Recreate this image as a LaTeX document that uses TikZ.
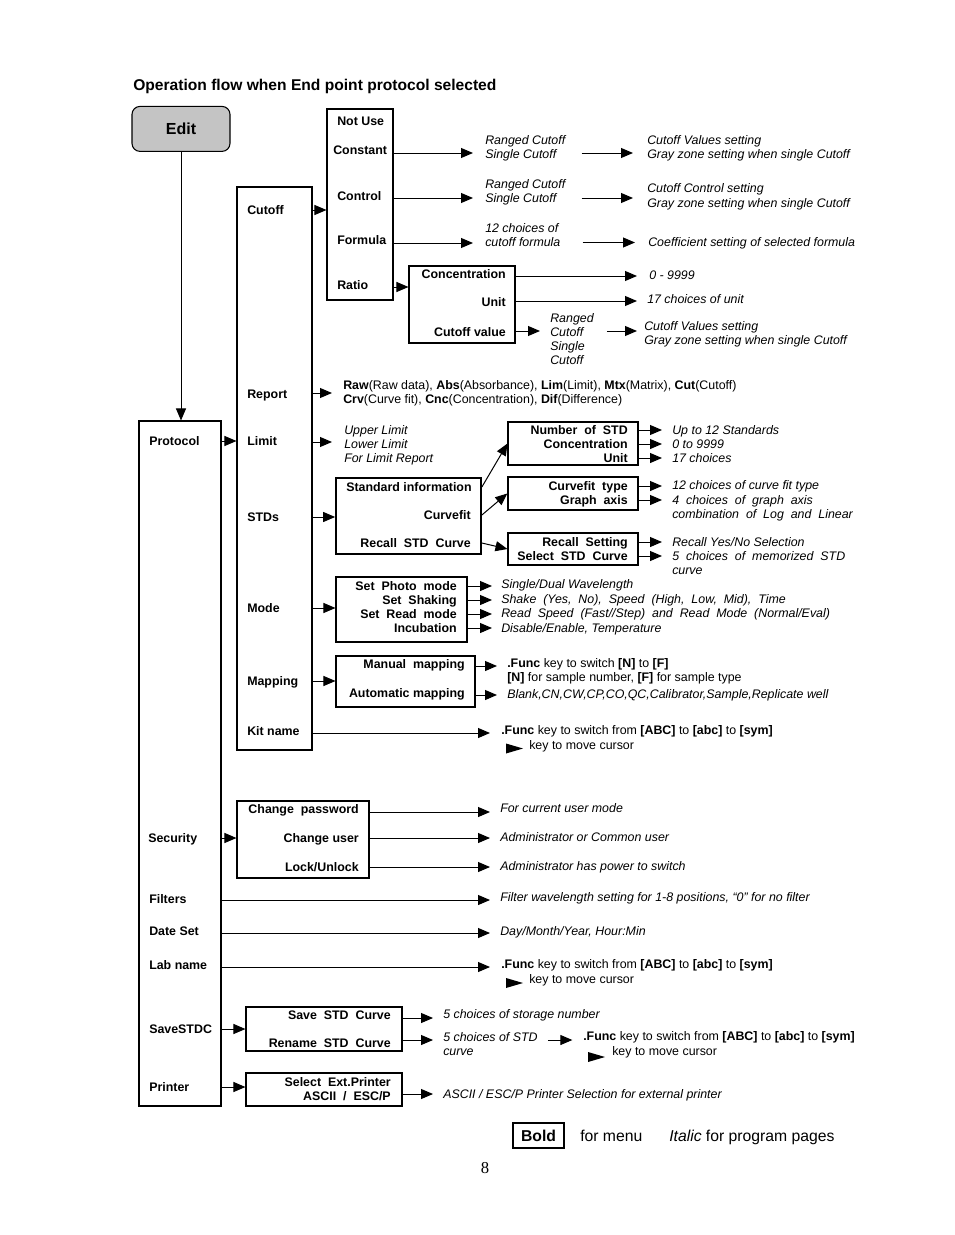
\documentclass[tikz,border=0pt]{standalone}
\usepackage{fontspec}
\setmainfont{Liberation Sans}
\newfontfamily\pagenumfont{Liberation Serif}
\usetikzlibrary{arrows.meta,fit}
\definecolor{editgray}{RGB}{196,196,196}
\tikzset{
  lbl/.style={font=\fontsize{9.3}{10.5}\selectfont\bfseries, inner sep=0pt, anchor=base west},
  lblr/.style={lbl, anchor=base east},
  itx/.style={font=\fontsize{9.3}{10.5}\selectfont\itshape, inner sep=0pt, anchor=base west, align=left},
  itm/.style={itx, anchor=north west},
  rgx/.style={font=\fontsize{9.3}{10.5}\selectfont, inner sep=0pt, anchor=base west, align=left},
  rgm/.style={rgx, anchor=north west},
  box/.style={draw, line width=0.8pt, inner sep=0pt},
  arr/.style={-{Triangle[length=9pt,width=7.5pt]}, line width=0.75pt},
}
% \ar{from anchor}{to anchor}{y}{gap at end}
\newcommand{\ar}[4]{\draw[arr, shorten >=#4] (#1 |- 0,#3) -- (#2 |- 0,#3);}
\begin{document}
\begin{tikzpicture}[x=0.75pt,y=-0.75pt]
\useasboundingbox (0,0) rectangle (954,1235);

% title
\node[font=\fontsize{11.7}{14}\selectfont\bfseries, inner sep=0pt, anchor=base west] (title) at (133,90.5) {Operation flow when End point protocol selected};

% Edit
\node[draw, line width=0.8pt, fill=editgray, rounded corners=6pt, minimum width=73.5pt, minimum height=33.75pt, inner sep=0pt,
      font=\fontsize{12}{14}\selectfont\bfseries, text depth=0pt, yshift=1.2pt] (edit) at (181,130.5) {Edit};

% main boxes
\node[box, fit={(139,421)(221,1106)}] (prot) {};
\node[box, fit={(237,187)(312,750)}] (col) {};
\node[box, fit={(327,109)(393,300)}] (cutbox) {};
\node[box, fit={(409,266)(515,343)}] (ratiobox) {};
\node[box, line width=1.3pt, fit={(336,478)(481,554)}] (stdbox) {};
\node[box, fit={(508,422)(638,465)}] (numbox) {};
\node[box, line width=1.1pt, fit={(508,477)(638,510)}] (cfbox) {};
\node[box, fit={(508,533)(638,565)}] (rcbox) {};
\node[box, fit={(336,577)(467,642)}] (modebox) {};
\node[box, fit={(336,656)(475,707)}] (mapbox) {};
\node[box, fit={(237,801)(369,878)}] (secbox) {};
\node[box, fit={(246,1007)(402,1051)}] (savebox) {};
\node[box, fit={(246,1073)(402,1106)}] (prnbox) {};

% Protocol labels
\node[lbl] (lprot) at (149,445.5) {Protocol};
\node[lbl] (lsec) at (148,842.5) {Security};
\node[lbl] (lfilt) at (149,903.5) {Filters};
\node[lbl] (ldate) at (149,935.5) {Date Set};
\node[lbl] (llab) at (149,969.5) {Lab name};
\node[lbl] (lsave) at (149,1033.5) {SaveSTDC};
\node[lbl] (lprn) at (149,1091.5) {Printer};

% column labels
\node[lbl] (lcut) at (247,214.5) {Cutoff};
\node[lbl] (lrep) at (247,398.5) {Report};
\node[lbl] (llim) at (247,445.5) {Limit};
\node[lbl] (lstd) at (247,521.5) {STDs};
\node[lbl] (lmode) at (247,612.5) {Mode};
\node[lbl] (lmap) at (247,685.5) {Mapping};
\node[lbl] (lkit) at (247,735.5) {Kit name};

% cutoff options
\node[lbl] (lnot) at (337,125.5) {Not Use};
\node[lbl] (lconst) at (333,154.5) {Constant};
\node[lbl] (lctrl) at (337,200.5) {Control};
\node[lbl] (lform) at (337,244.5) {Formula};
\node[lbl] (lratio) at (337,289) {Ratio};

% ratio box labels
\node[lblr] (lconc) at (506,278.5) {Concentration};
\node[lblr] (lunit) at (506,306.5) {Unit};
\node[lblr] (lcv) at (506,336) {Cutoff value};

% std box labels
\node[lbl] (lsi) at (346,491.5) {Standard information};
\node[lblr] (lcf) at (471,519.5) {Curvefit};
\node[lblr] (lrsc) at (471,547.5) {Recall~ STD~ Curve};

\node[lblr] (lnum) at (628,434.5) {Number~ of~ STD};
\node[lblr] (lnconc) at (628,448.5) {Concentration};
\node[lblr] (lnunit) at (628,462.5) {Unit};
\node[lblr] (lcft) at (628,490.5) {Curvefit~ type};
\node[lblr] (lga) at (628,504.5) {Graph~ axis};
\node[lblr] (lrs) at (628,546.5) {Recall~ Setting};
\node[lblr] (lssc) at (628,560.5) {Select~ STD~ Curve};

% mode labels
\node[lblr] (lm1) at (457,590.5) {Set~ Photo~ mode};
\node[lblr] (lm2) at (457,604.5) {Set~ Shaking};
\node[lblr] (lm3) at (457,618.5) {Set~ Read~ mode};
\node[lblr] (lm4) at (457,632.5) {Incubation};

% mapping labels
\node[lblr] (lmm) at (465,668.5) {Manual~ mapping};
\node[lblr] (lam) at (465,697.5) {Automatic mapping};

% security labels
\node[lblr] (lcp) at (359,813.5) {Change~ password};
\node[lblr] (lcu) at (359,842.5) {Change user};
\node[lblr] (llu) at (359,871.5) {Lock/Unlock};

% save / printer labels
\node[lblr] (lssave) at (391,1019.5) {Save~ STD~ Curve};
\node[lblr] (lsren) at (391,1047.5) {Rename~ STD~ Curve};
\node[lblr] (lpsel) at (391,1086.5) {Select~ Ext.Printer};
\node[lblr] (lpasc) at (391,1100.5) {ASCII~ /~ ESC/P};

% ---------- texts ----------
\node[itm] (t1) at (485,135.5) {Ranged Cutoff\\Single Cutoff};
\node[itm] (t1b) at (647,135.5) {Cutoff Values setting\\Gray zone setting when single Cutoff};
\node[itm] (t2) at (485,179.5) {Ranged Cutoff\\Single Cutoff};
\node[itm, font=\fontsize{9.3}{11.2}\selectfont\itshape] (t2b) at (647,183.5) {Cutoff Control setting\\Gray zone setting when single Cutoff};
\node[itm] (t3) at (485,223.5) {12 choices of\\cutoff formula};
\node[itx] (t3b) at (648,246.5) {Coefficient setting of selected formula};
\node[itx] (t4) at (649,279.5) {0 - 9999};
\node[itx] (t5) at (647,303.5) {17 choices of unit};
\node[itm] (t6) at (550,313.5) {Ranged\\Cutoff\\Single\\Cutoff};
\node[itm] (t6b) at (644,321.5) {Cutoff Values setting\\Gray zone setting when single Cutoff};

\node[rgm] (trep) at (343,380.5) {\textbf{Raw}(Raw data), \textbf{Abs}(Absorbance), \textbf{Lim}(Limit), \textbf{Mtx}(Matrix), \textbf{Cut}(Cutoff)\\\textbf{Crv}(Curve fit), \textbf{Cnc}(Concentration), \textbf{Dif}(Difference)};
\node[itm] (tlim) at (344,425.5) {Upper Limit\\Lower Limit\\For Limit Report};

\node[itx] (tn1) at (672,434.5) {Up to 12 Standards};
\node[itx] (tn2) at (672,448.5) {0 to 9999};
\node[itx] (tn3) at (672,462.5) {17 choices};
\node[itx] (tc1) at (672,489.5) {12 choices of curve fit type};
\node[itm] (tc2) at (672,495.5) {4~ choices~ of~ graph~ axis\\combination~ of~ Log~ and~ Linear};
\node[itx] (tr1) at (672,546.5) {Recall Yes/No Selection};
\node[itm] (tr2) at (672,551.5) {5~ choices~ of~ memorized~ STD\\curve};

\node[itx] (tm1) at (501,588.5) {Single/Dual Wavelength};
\node[itx] (tm2) at (501,603.5) {Shake~ (Yes,~ No),~ Speed~ (High,~ Low,~ Mid),~ Time};
\node[itx] (tm3) at (501,617.5) {Read~ Speed~ (Fast//Step)~ and~ Read~ Mode~ (Normal/Eval)};
\node[itx] (tm4) at (501,632.5) {Disable/Enable, Temperature};

\node[rgm] (tmap1) at (507,658.5) {\textbf{.Func} key to switch \textbf{[N]} to \textbf{[F]}\\\textbf{[N]} for sample number, \textbf{[F]} for sample type};
\node[itx] (tmap2) at (507,698.5) {Blank,CN,CW,CP,CO,QC,Calibrator,Sample,Replicate well};

\node[rgx] (tkit) at (501,734.5) {\textbf{.Func} key to switch from \textbf{[ABC]} to \textbf{[abc]} to \textbf{[sym]}};
\fill (506,743.5) -- (523,748.5) -- (506,753.5) -- cycle;
\node[rgx] (tkit2) at (529,749.5) {key to move cursor};

\node[itx] (ts1) at (500,812.5) {For current user mode};
\node[itx] (ts2) at (500,841.5) {Administrator or Common user};
\node[itx] (ts3) at (500,870.5) {Administrator has power to switch};
\node[itx] (tfilt) at (500,901.5) {Filter wavelength setting for 1-8 positions, “0” for no filter};
\node[itx] (tdate) at (500,935.5) {Day/Month/Year, Hour:Min};
\node[rgx] (tlab) at (501,968.5) {\textbf{.Func} key to switch from \textbf{[ABC]} to \textbf{[abc]} to \textbf{[sym]}};
\fill (506,978) -- (523,983) -- (506,988) -- cycle;
\node[rgx] (tlab2) at (529,983.5) {key to move cursor};

\node[itx] (tsv1) at (443,1018.5) {5 choices of storage number};
\node[itm] (tsv2) at (443,1032.5) {5 choices of STD\\curve};
\node[rgx] (tfunc) at (583,1040.5) {\textbf{.Func} key to switch from \textbf{[ABC]} to \textbf{[abc]} to \textbf{[sym]}};
\fill (588,1052) -- (605,1057) -- (588,1062) -- cycle;
\node[rgx] (tfunc2) at (612,1055.5) {key to move cursor};
\node[itx] (tprn) at (443,1098.5) {ASCII / ESC/P Printer Selection for external printer};

% legend
\node[draw, line width=0.8pt, minimum width=38.25pt, minimum height=18.75pt, inner sep=0pt,
      font=\fontsize{11.8}{14}\selectfont\bfseries] (boldbox) at (538.5,1135.5) {Bold};
\node[font=\fontsize{11.8}{14}\selectfont, inner sep=0pt, anchor=base west] (leg1) at (580,1141.5) {for menu};
\node[font=\fontsize{11.8}{14}\selectfont, inner sep=0pt, anchor=base west] (leg2) at (669,1141.5) {\textit{Italic} for program pages};
\node[font=\pagenumfont\fontsize{12.5}{14}\selectfont, inner sep=0pt, anchor=base] (pnum) at (485,1173.5) {8};

% ---------- connectors ----------
\draw[arr] (edit.south) -- (edit.south |- prot.north);
\ar{prot.east}{col.west}{441}{0pt}
\ar{col.east}{cutbox.west}{210}{0pt}

\ar{cutbox.east}{t1.west}{153}{9pt}
\draw[arr, shorten <=12pt, shorten >=10.5pt] (t1.east |- 0,153) -- (t1b.west |- 0,153);
\ar{cutbox.east}{t2.west}{198}{9pt}
\draw[arr, shorten <=12pt, shorten >=10.5pt] (t2.east |- 0,198) -- (t2b.west |- 0,198);
\ar{cutbox.east}{t3.west}{243}{9pt}
\draw[arr, shorten <=16.5pt, shorten >=9.75pt] (t3.east |- 0,242.5) -- (t3b.west |- 0,242.5);
\ar{cutbox.east}{ratiobox.west}{287}{0pt}
\ar{ratiobox.east}{t4.west}{276}{9pt}
\ar{ratiobox.east}{t5.west}{301}{7.5pt}
\ar{ratiobox.east}{t6.west}{331}{7.5pt}
\draw[arr, shorten <=9.75pt, shorten >=5.25pt] (t6.east |- 0,331) -- (t6b.west |- 0,331);

\ar{col.east}{trep.west}{393}{8.25pt}
\ar{col.east}{tlim.west}{442}{9pt}
\ar{col.east}{stdbox.west}{517}{0pt}
\draw[arr] (stdbox.east |- 0,487) -- (numbox.west);
\draw[arr] (stdbox.east |- 0,515) -- (cfbox.west);
\draw[arr] (stdbox.east |- 0,543) -- (rcbox.west);
\ar{numbox.east}{tn1.west}{430}{7.5pt}
\ar{numbox.east}{tn2.west}{444}{7.5pt}
\ar{numbox.east}{tn3.west}{458}{7.5pt}
\ar{cfbox.east}{tc1.west}{486}{7.5pt}
\ar{cfbox.east}{tc2.west}{500}{7.5pt}
\ar{rcbox.east}{tr1.west}{542}{7.5pt}
\ar{rcbox.east}{tr2.west}{556}{7.5pt}

\ar{col.east}{modebox.west}{608}{0pt}
\ar{modebox.east}{tm1.west}{586}{6.75pt}
\ar{modebox.east}{tm2.west}{600}{6.75pt}
\ar{modebox.east}{tm3.west}{614}{6.75pt}
\ar{modebox.east}{tm4.west}{628}{6.75pt}

\ar{col.east}{mapbox.west}{681}{0pt}
\ar{mapbox.east}{tmap1.west}{666}{7.5pt}
\ar{mapbox.east}{tmap2.west}{695}{7.5pt}
\ar{col.east}{tkit.west}{733}{8.25pt}

\ar{prot.east}{secbox.west}{838}{0pt}
\ar{secbox.east}{ts1.west}{812}{7.5pt}
\ar{secbox.east}{ts2.west}{838}{7.5pt}
\ar{secbox.east}{ts3.west}{867}{7.5pt}
\ar{prot.east}{tfilt.west}{900}{7.5pt}
\ar{prot.east}{tdate.west}{933}{7.5pt}
\ar{prot.east}{tlab.west}{967}{8.25pt}

\ar{prot.east}{savebox.west}{1029}{0pt}
\ar{savebox.east}{tsv1.west}{1018}{7.5pt}
\ar{savebox.east}{tsv2.west}{1040}{7.5pt}
\draw[arr, shorten <=7.5pt, shorten >=8pt] (tsv2.east |- 0,1040) -- (tfunc.west |- 0,1040);
\ar{prot.east}{prnbox.west}{1087}{0pt}
\ar{prnbox.east}{tprn.west}{1094}{7.5pt}
\end{tikzpicture}
\end{document}
